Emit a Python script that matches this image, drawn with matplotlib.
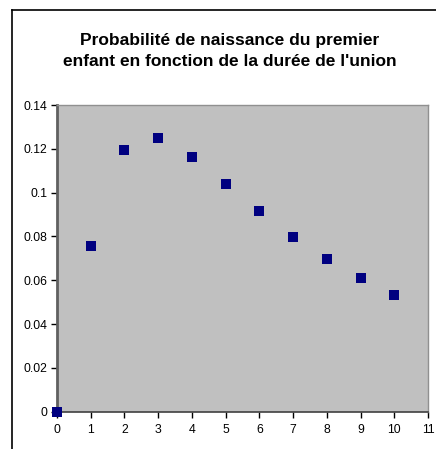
import matplotlib
matplotlib.use("Agg")
import matplotlib.pyplot as plt
from matplotlib.lines import Line2D

plt.rcParams['font.family'] = ['Liberation Sans', 'DejaVu Sans']

durations = [0, 1, 2, 3, 4, 5, 6, 7, 8, 9, 10]
probabilities = [0.0, 0.0757, 0.1195, 0.125, 0.1163, 0.104, 0.0916, 0.0798, 0.0697, 0.0609, 0.0532]
x_ticks = list(range(0, 12))
y_ticks = [0, 0.02, 0.04, 0.06, 0.08, 0.1, 0.12, 0.14]
y_labels = ["0", "0.02", "0.04", "0.06", "0.08", "0.1", "0.12", "0.14"]
title = "Probabilité de naissance du premier\nenfant en fonction de la durée de l'union"

W, H = 436, 449
fig = plt.figure(figsize=(W / 100, H / 100), dpi=100)
fig.patch.set_facecolor('white')

# outer chart border (left and top visible)
fig.add_artist(Line2D([12 / W, 12 / W], [0, 1 - 10 / H], color='black', lw=1.2))
fig.add_artist(Line2D([12 / W, 1], [1 - 10 / H, 1 - 10 / H], color='black', lw=1.2))

ax = fig.add_axes([57 / W, 1 - 411.7 / H, (428 - 57) / W, (411.7 - 105) / H])
ax.set_facecolor('#C0C0C0')
ax.scatter(durations, probabilities, marker='s', s=62, color='#000080', clip_on=False, zorder=3, linewidths=0)

ax.set_xlim(0, 11)
ax.set_ylim(0, 0.14)
ax.set_xticks(x_ticks)
ax.set_xticklabels([str(t) for t in x_ticks])
ax.set_yticks(y_ticks)
ax.set_yticklabels(y_labels)
ax.tick_params(axis='both', direction='out', length=4, width=1, labelsize=8.8, colors='black')
ax.tick_params(axis='x', pad=5)
ax.tick_params(axis='y', pad=3)

for side in ['top', 'right']:
    ax.spines[side].set_color('#909090')
    ax.spines[side].set_linewidth(1)
ax.spines['left'].set_color('#606060')
ax.spines['left'].set_linewidth(2)
ax.spines['bottom'].set_color('#404040')
ax.spines['bottom'].set_linewidth(1.2)

fig.text(230 / W, 1 - 51 / H, title, ha='center', va='center', fontsize=12.5, fontweight='bold', linespacing=1.42)

fig.savefig('out.png', dpi=100)
